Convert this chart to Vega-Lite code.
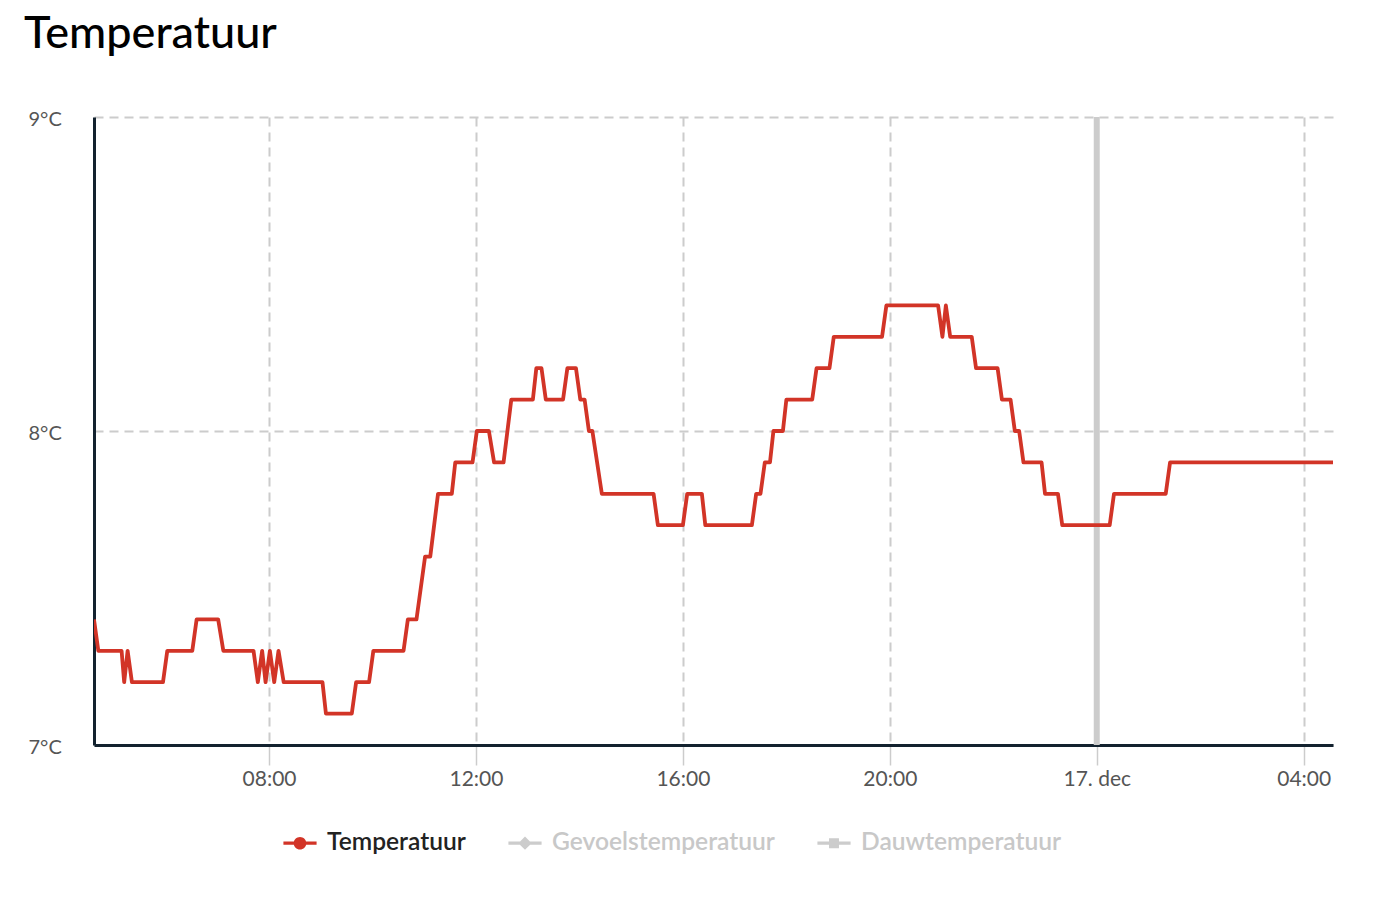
{
  "$schema": "https://vega.github.io/schema/vega-lite/v6.json",
  "width": 1239,
  "height": 628,
  "autosize": {"type": "none"},
  "padding": {"left": 94, "top": 117, "right": 41, "bottom": 155},
  "background": "#ffffff",
  "config": {
    "view": {"stroke": null},
    "font": "Lato"
  },
  "title": {
    "text": "Temperatuur",
    "anchor": "start",
    "frame": "group",
    "fontSize": 45,
    "fontWeight": 500,
    "font": "Lato",
    "color": "#000000",
    "dx": -70,
    "offset": 52
  },
  "layer": [
    {
      "data": {"values": [{"t": "2023-12-17T00:00:00"}]},
      "mark": {"type": "rule", "color": "#cccccc", "strokeWidth": 6},
      "encoding": {
        "x": {"field": "t", "type": "temporal"}
      }
    },
    {
      "data": {
        "values": [
          {"t": "2023-12-16T04:37:00", "v": 7.4, "s": "Temperatuur"},
          {"t": "2023-12-16T04:42:00", "v": 7.3, "s": "Temperatuur"},
          {"t": "2023-12-16T05:09:00", "v": 7.3, "s": "Temperatuur"},
          {"t": "2023-12-16T05:12:00", "v": 7.2, "s": "Temperatuur"},
          {"t": "2023-12-16T05:16:00", "v": 7.3, "s": "Temperatuur"},
          {"t": "2023-12-16T05:21:00", "v": 7.2, "s": "Temperatuur"},
          {"t": "2023-12-16T05:57:00", "v": 7.2, "s": "Temperatuur"},
          {"t": "2023-12-16T06:02:00", "v": 7.3, "s": "Temperatuur"},
          {"t": "2023-12-16T06:31:00", "v": 7.3, "s": "Temperatuur"},
          {"t": "2023-12-16T06:36:00", "v": 7.4, "s": "Temperatuur"},
          {"t": "2023-12-16T07:01:00", "v": 7.4, "s": "Temperatuur"},
          {"t": "2023-12-16T07:07:00", "v": 7.3, "s": "Temperatuur"},
          {"t": "2023-12-16T07:42:00", "v": 7.3, "s": "Temperatuur"},
          {"t": "2023-12-16T07:47:00", "v": 7.2, "s": "Temperatuur"},
          {"t": "2023-12-16T07:52:00", "v": 7.3, "s": "Temperatuur"},
          {"t": "2023-12-16T07:56:00", "v": 7.2, "s": "Temperatuur"},
          {"t": "2023-12-16T08:01:00", "v": 7.3, "s": "Temperatuur"},
          {"t": "2023-12-16T08:06:00", "v": 7.2, "s": "Temperatuur"},
          {"t": "2023-12-16T08:11:00", "v": 7.3, "s": "Temperatuur"},
          {"t": "2023-12-16T08:17:00", "v": 7.2, "s": "Temperatuur"},
          {"t": "2023-12-16T09:02:00", "v": 7.2, "s": "Temperatuur"},
          {"t": "2023-12-16T09:06:00", "v": 7.1, "s": "Temperatuur"},
          {"t": "2023-12-16T09:36:00", "v": 7.1, "s": "Temperatuur"},
          {"t": "2023-12-16T09:41:00", "v": 7.2, "s": "Temperatuur"},
          {"t": "2023-12-16T09:56:00", "v": 7.2, "s": "Temperatuur"},
          {"t": "2023-12-16T10:01:00", "v": 7.3, "s": "Temperatuur"},
          {"t": "2023-12-16T10:36:00", "v": 7.3, "s": "Temperatuur"},
          {"t": "2023-12-16T10:41:00", "v": 7.4, "s": "Temperatuur"},
          {"t": "2023-12-16T10:51:00", "v": 7.4, "s": "Temperatuur"},
          {"t": "2023-12-16T11:01:00", "v": 7.6, "s": "Temperatuur"},
          {"t": "2023-12-16T11:07:00", "v": 7.6, "s": "Temperatuur"},
          {"t": "2023-12-16T11:16:00", "v": 7.8, "s": "Temperatuur"},
          {"t": "2023-12-16T11:32:00", "v": 7.8, "s": "Temperatuur"},
          {"t": "2023-12-16T11:36:00", "v": 7.9, "s": "Temperatuur"},
          {"t": "2023-12-16T11:56:00", "v": 7.9, "s": "Temperatuur"},
          {"t": "2023-12-16T12:01:00", "v": 8.0, "s": "Temperatuur"},
          {"t": "2023-12-16T12:15:00", "v": 8.0, "s": "Temperatuur"},
          {"t": "2023-12-16T12:21:00", "v": 7.9, "s": "Temperatuur"},
          {"t": "2023-12-16T12:32:00", "v": 7.9, "s": "Temperatuur"},
          {"t": "2023-12-16T12:41:00", "v": 8.1, "s": "Temperatuur"},
          {"t": "2023-12-16T13:06:00", "v": 8.1, "s": "Temperatuur"},
          {"t": "2023-12-16T13:10:00", "v": 8.2, "s": "Temperatuur"},
          {"t": "2023-12-16T13:16:00", "v": 8.2, "s": "Temperatuur"},
          {"t": "2023-12-16T13:21:00", "v": 8.1, "s": "Temperatuur"},
          {"t": "2023-12-16T13:41:00", "v": 8.1, "s": "Temperatuur"},
          {"t": "2023-12-16T13:46:00", "v": 8.2, "s": "Temperatuur"},
          {"t": "2023-12-16T13:56:00", "v": 8.2, "s": "Temperatuur"},
          {"t": "2023-12-16T14:01:00", "v": 8.1, "s": "Temperatuur"},
          {"t": "2023-12-16T14:06:00", "v": 8.1, "s": "Temperatuur"},
          {"t": "2023-12-16T14:11:00", "v": 8.0, "s": "Temperatuur"},
          {"t": "2023-12-16T14:15:00", "v": 8.0, "s": "Temperatuur"},
          {"t": "2023-12-16T14:26:00", "v": 7.8, "s": "Temperatuur"},
          {"t": "2023-12-16T15:26:00", "v": 7.8, "s": "Temperatuur"},
          {"t": "2023-12-16T15:31:00", "v": 7.7, "s": "Temperatuur"},
          {"t": "2023-12-16T16:00:00", "v": 7.7, "s": "Temperatuur"},
          {"t": "2023-12-16T16:05:00", "v": 7.8, "s": "Temperatuur"},
          {"t": "2023-12-16T16:22:00", "v": 7.8, "s": "Temperatuur"},
          {"t": "2023-12-16T16:26:00", "v": 7.7, "s": "Temperatuur"},
          {"t": "2023-12-16T17:20:00", "v": 7.7, "s": "Temperatuur"},
          {"t": "2023-12-16T17:25:00", "v": 7.8, "s": "Temperatuur"},
          {"t": "2023-12-16T17:30:00", "v": 7.8, "s": "Temperatuur"},
          {"t": "2023-12-16T17:35:00", "v": 7.9, "s": "Temperatuur"},
          {"t": "2023-12-16T17:41:00", "v": 7.9, "s": "Temperatuur"},
          {"t": "2023-12-16T17:45:00", "v": 8.0, "s": "Temperatuur"},
          {"t": "2023-12-16T17:56:00", "v": 8.0, "s": "Temperatuur"},
          {"t": "2023-12-16T18:00:00", "v": 8.1, "s": "Temperatuur"},
          {"t": "2023-12-16T18:30:00", "v": 8.1, "s": "Temperatuur"},
          {"t": "2023-12-16T18:35:00", "v": 8.2, "s": "Temperatuur"},
          {"t": "2023-12-16T18:50:00", "v": 8.2, "s": "Temperatuur"},
          {"t": "2023-12-16T18:55:00", "v": 8.3, "s": "Temperatuur"},
          {"t": "2023-12-16T19:51:00", "v": 8.3, "s": "Temperatuur"},
          {"t": "2023-12-16T19:56:00", "v": 8.4, "s": "Temperatuur"},
          {"t": "2023-12-16T20:56:00", "v": 8.4, "s": "Temperatuur"},
          {"t": "2023-12-16T21:01:00", "v": 8.3, "s": "Temperatuur"},
          {"t": "2023-12-16T21:05:00", "v": 8.4, "s": "Temperatuur"},
          {"t": "2023-12-16T21:10:00", "v": 8.3, "s": "Temperatuur"},
          {"t": "2023-12-16T21:35:00", "v": 8.3, "s": "Temperatuur"},
          {"t": "2023-12-16T21:40:00", "v": 8.2, "s": "Temperatuur"},
          {"t": "2023-12-16T22:05:00", "v": 8.2, "s": "Temperatuur"},
          {"t": "2023-12-16T22:10:00", "v": 8.1, "s": "Temperatuur"},
          {"t": "2023-12-16T22:20:00", "v": 8.1, "s": "Temperatuur"},
          {"t": "2023-12-16T22:25:00", "v": 8.0, "s": "Temperatuur"},
          {"t": "2023-12-16T22:30:00", "v": 8.0, "s": "Temperatuur"},
          {"t": "2023-12-16T22:35:00", "v": 7.9, "s": "Temperatuur"},
          {"t": "2023-12-16T22:56:00", "v": 7.9, "s": "Temperatuur"},
          {"t": "2023-12-16T23:00:00", "v": 7.8, "s": "Temperatuur"},
          {"t": "2023-12-16T23:15:00", "v": 7.8, "s": "Temperatuur"},
          {"t": "2023-12-16T23:20:00", "v": 7.7, "s": "Temperatuur"},
          {"t": "2023-12-17T00:15:00", "v": 7.7, "s": "Temperatuur"},
          {"t": "2023-12-17T00:20:00", "v": 7.8, "s": "Temperatuur"},
          {"t": "2023-12-17T01:20:00", "v": 7.8, "s": "Temperatuur"},
          {"t": "2023-12-17T01:25:00", "v": 7.9, "s": "Temperatuur"},
          {"t": "2023-12-17T04:34:00", "v": 7.9, "s": "Temperatuur"}
        ]
      },
      "mark": {"type": "line", "strokeWidth": 3.8, "strokeJoin": "round", "strokeCap": "butt", "clip": true},
      "encoding": {
        "x": {
          "field": "t",
          "type": "temporal",
          "scale": {
            "domain": [
              {"year": 2023, "month": 12, "date": 16, "hours": 4, "minutes": 37},
              {"year": 2023, "month": 12, "date": 17, "hours": 4, "minutes": 34}
            ],
            "nice": false
          },
          "axis": {
            "title": null,
            "values": [
              {"year": 2023, "month": 12, "date": 16, "hours": 8},
              {"year": 2023, "month": 12, "date": 16, "hours": 12},
              {"year": 2023, "month": 12, "date": 16, "hours": 16},
              {"year": 2023, "month": 12, "date": 16, "hours": 20},
              {"year": 2023, "month": 12, "date": 17, "hours": 0},
              {"year": 2023, "month": 12, "date": 17, "hours": 4}
            ],
            "labelExpr": "hours(datum.value) == 0 ? date(datum.value) + '. dec' : timeFormat(datum.value, '%H:%M')",
            "labelFontSize": 21,
            "labelColor": "#555555",
            "labelFont": "Lato",
            "labelPadding": 3,
            "labelFlush": false,
            "tickColor": "#cccccc",
            "tickSize": 20,
            "tickWidth": 1.5,
            "domainColor": "#13222f",
            "domainWidth": 3,
            "grid": true,
            "gridColor": "#cccccc",
            "gridDash": [9, 6],
            "gridWidth": 2
          }
        },
        "y": {
          "field": "v",
          "type": "quantitative",
          "scale": {"domain": [7, 9], "nice": false, "zero": false},
          "axis": {
            "title": null,
            "values": [7, 8, 9],
            "labelExpr": "format(datum.value, 'd') + '°C'",
            "labelAlign": "left",
            "labelPadding": 66,
            "labelFontSize": 20,
            "labelColor": "#555555",
            "labelFont": "Lato",
            "labelOffset": 2,
            "ticks": false,
            "domainColor": "#13222f",
            "domainWidth": 3,
            "grid": true,
            "gridColor": "#cccccc",
            "gridDash": [9, 6],
            "gridWidth": 2
          }
        },
        "color": {
          "field": "s",
          "type": "nominal",
          "scale": {
            "domain": ["Temperatuur", "Gevoelstemperatuur", "Dauwtemperatuur"],
            "range": ["#d23427", "#cccccc", "#cccccc"]
          },
          "legend": {
            "title": null,
            "orient": "none",
            "direction": "horizontal",
            "legendX": 189,
            "legendY": 709,
            "labelFontSize": 24.6,
            "labelFont": "Lato",
            "labelFontWeight": 600,
            "labelLimit": 0,
            "labelOffset": 10,
            "columnPadding": 42,
            "symbolSize": 1100,
            "encode": {
              "symbols": {
                "update": {
                  "shape": {"signal": "datum.value == 'Temperatuur' ? 'M-1,-0.1H1V0.1H-1Z M0.38,0 A0.38,0.38 0 1,1 -0.38,0 A0.38,0.38 0 1,1 0.38,0Z' : datum.value == 'Gevoelstemperatuur' ? 'M-1,-0.1H1V0.1H-1Z M0,-0.4L0.4,0L0,0.4L-0.4,0Z' : 'M-1,-0.1H1V0.1H-1Z M-0.3,-0.3H0.3V0.3H-0.3Z'"},
                  "fill": {"signal": "datum.value == 'Temperatuur' ? '#d23427' : '#cccccc'"},
                  "stroke": {"value": "transparent"},
                  "strokeWidth": {"value": 0},
                  "opacity": {"value": 1}
                }
              },
              "labels": {
                "update": {
                  "fill": {"signal": "datum.value == 'Temperatuur' ? '#222222' : '#c8c8c8'"}
                }
              }
            }
          }
        }
      }
    }
  ]
}
